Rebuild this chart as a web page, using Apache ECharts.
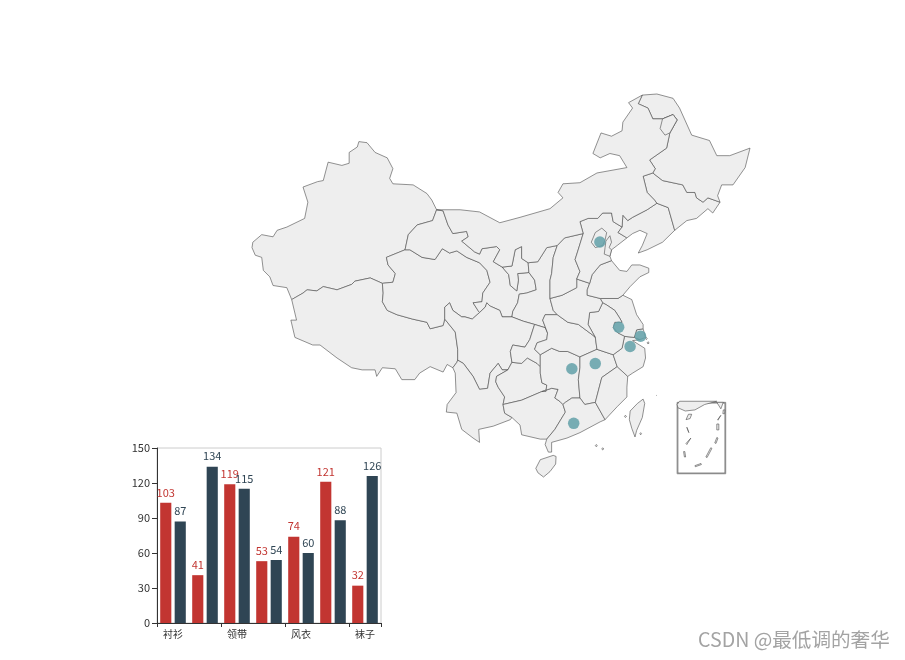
<!DOCTYPE html>
<html>
<head>
    <meta charset="utf-8">
    <title>Map and bars</title>
    <style>
        html, body { margin: 0; padding: 0; background: #fff; }
        #main { width: 905px; height: 660px; }
    </style>
</head>
<body>
    <div id="main"></div>
    <script src="https://cdn.jsdelivr.net/npm/echarts@6/dist/echarts.min.js"></script>
    <script>
        // bar data
        const categories = ['衬衫', '羊毛衫', '领带', '裤子', '风衣', '高跟鞋', '袜子'];
        const redValues = [103, 41, 119, 53, 74, 121, 32];
        const darkValues = [87, 134, 115, 54, 60, 88, 126];

        // cities on the map: lon, lat
        const cities = [
            [116.46, 39.92], [121.48, 31.22], [118.78, 32.04], [120.19, 30.26],
            [115.89, 28.68], [113.0, 28.21], [113.23, 23.16]
        ];

        // shared province borders, lon/lat
        const arcs = {
            xj_n: [[96.3,42.9],[95.7,43.8],[95.1,44.4],[93.4,45.2],[90.9,45.3],[90.5,45.8],[90.9,46.7],[90.2,47.7],[88.7,48.2],[87.7,49.1],[86.7,49.2],[86.5,48.7],[85.5,48.2],[85.5,47.2],[84.6,47],[82.9,47.3],[82.3,45.6],[81.6,45.5],[79.8,45],[80.4,43.6],[80,42.1],[77.8,41.3],[76.6,41],[76.1,40.4],[74.7,40.6],[73.6,39.9],[73.5,39.4],[73.9,38.7],[74.7,38.5],[74.9,37.3],[75.7,36.7],[76.1,35.9],[77.8,35.7],[78.4,34.6]],
            xj_xz: [[78.4,34.6],[79.8,35.2],[80.3,35.5],[81.5,35.4],[82.3,35.8],[84,35.5],[85.8,36],[86.2,36.3],[88.1,36.6],[89.6,36.1]],
            xj_qh: [[89.6,36.1],[90.9,36.2],[91.2,37],[90.3,37.8],[90.1,38.5],[92.4,39.2]],
            xj_gs: [[92.4,39.2],[92.8,40.6],[93.9,41.5],[95.8,41.9],[96.3,42.9]],
            xz_s: [[78.4,34.6],[79,32.7],[78.3,32.7],[78.8,31.1],[81,30.4],[81.9,30.4],[84,29.2],[85.8,28.3],[87.1,28.1],[88.7,28.1],[88.9,27.5],[89.6,28.3],[91.2,28.2],[92,27.2],[93.6,27.2],[94.2,27.8],[95.5,28.4],[97.1,27.9],[97.6,28.6],[98.3,28.3]],
            xz_yn: [[98.3,28.3],[98.8,28.8],[98.9,29]],
            sc_xz: [[97.3,32.8],[98.6,31.6],[98.9,30],[98.9,29]],
            qh_xz: [[97.3,32.8],[97.1,32.2],[95.5,31.9],[95.1,32.5],[93.3,32.8],[91.4,33.2],[90.2,33.6],[89.6,34.4],[89.7,35.2],[89.6,36.1]],
            qh_gs: [[92.4,39.2],[93,39.2],[94.5,38.5],[96.1,38.3],[97,39.3],[97.9,38.9],[98.8,39.1],[100,38.5],[101.6,38],[102.5,37.3],[102.9,36.2],[102,35.2],[101.9,34.4],[100.8,34.3],[101.4,33.6],[101.6,33.4]],
            qh_sc: [[101.6,33.4],[100.7,32.8],[99.8,33],[99.4,33],[98.3,33.6],[97.9,34.3],[97.3,33.9],[97.3,32.8]],
            gs_im: [[96.3,42.9],[97.1,42.8],[97.7,41.5],[98.3,40.7],[100,40.9],[100.2,40.4],[99.4,40],[101,39],[101.6,38.8],[101.9,39.3],[103.7,39.5],[104.1,39.2],[103.3,38.1],[104.4,37.6]],
            gs_nx: [[107.7,37.1],[106.3,37],[106.4,36.4],[106.2,35.4],[105.4,35.9],[105.2,36.9],[104.4,37.6]],
            gs_sa: [[105.6,33],[105.7,33.5],[106.3,34.3],[106.5,35.1],[107.4,35.2],[108.6,35.5],[108.4,36.4],[107.7,37.1]],
            gs_sc: [[101.6,33.4],[102.3,33.9],[102.5,34.3],[102.9,34],[104.1,33.6],[104.4,33],[105.6,33]],
            nx_im: [[104.4,37.6],[105.6,37.7],[106,39.2],[106.8,39.5],[106.8,38.4],[107.6,38]],
            nx_sa: [[107.6,38],[107.7,37.1]],
            sa_im: [[107.6,38],[108.8,38.1],[109.9,39.4],[111.2,39.6]],
            sa_sn: [[111.2,39.6],[110.7,38.5],[110.5,37],[110.3,36.4],[110.3,34.7]],
            sa_ha: [[110.3,34.7],[110.7,33.6],[111.2,33.2]],
            sa_hb: [[111.2,33.2],[109.7,33.2],[109.4,32.7],[110,31.5]],
            sa_cq: [[108.4,32.3],[109.7,32],[110,31.5]],
            sa_sc: [[105.6,33],[107,32.6],[108.4,32.3]],
            sc_cq: [[108.4,32.3],[107.8,30.9],[107.2,30.2],[105.7,30.4],[105.4,29.8],[105.6,28.8]],
            sc_gz: [[105.1,28.1],[105.6,28.8]],
            sc_yn: [[98.9,29],[99.6,28.7],[100.8,27.5],[101.6,26.3],[102.6,26.4],[102.9,27.8],[103.9,28.7],[104.4,28.1],[105.1,28.1]],
            yn_gz: [[105.1,28.1],[103.7,27.5],[103.6,27],[103.9,26.5],[104.7,25.6],[104.5,24.9]],
            yn_gx: [[104.5,24.9],[104.7,24.1],[105.6,23.7]],
            yn_s: [[98.3,28.3],[98.6,27.8],[98.7,26],[97.6,24.9],[97.5,24.2],[98.8,24.1],[99.4,22.6],[100.8,21.8],[101.6,21.4],[101.5,22.6],[103.3,22.9],[105.4,23.5],[105.6,23.7]],
            gz_cq: [[105.6,28.8],[106.8,28.7],[107.5,29.2],[108.7,28.7],[109.1,28.4]],
            gz_hn: [[109.1,28.4],[109.1,27.8],[109.3,26.9],[109.9,26.7],[109.8,26.1],[109.3,26.1]],
            gz_gx: [[104.5,24.9],[106.8,25.3],[109.3,26.1]],
            cq_hn: [[109.1,29.5],[109.1,28.4]],
            cq_hb: [[110,31.5],[109.9,30.9],[108.7,30.6],[108.4,30],[109.1,29.5]],
            gx_hn: [[109.3,26.1],[110.5,26.4],[111.3,26.3],[110.9,25.5],[111.5,25.2],[111.9,24.9]],
            gx_gd: [[111.9,24.9],[112.2,24.2],[110.9,22.6],[109.9,21.7]],
            gx_s: [[105.6,23.7],[106.6,23],[106.8,22.1],[109.1,21.7],[109.9,21.7]],
            hn_hb: [[109.1,29.5],[110.5,30.1],[111.5,29.8],[112.5,29.8],[114,29.3]],
            hn_jx: [[114,29.3],[114,28.3],[113.8,27.2],[114,25.5]],
            hn_gd: [[114,25.5],[113,25.5],[112.2,25.1],[111.9,24.9]],
            hb_ah: [[115.9,31.1],[116.1,30]],
            hb_jx: [[116.1,30],[114,29.3]],
            hb_ha: [[115.9,31.1],[115.6,31.3],[113.8,32.3],[112.5,32.5],[111.2,33.2]],
            jx_ah: [[116.1,30],[118.1,29.5]],
            jx_zj: [[118.1,29.5],[118.6,28.4]],
            jx_fj: [[118.6,28.4],[116.7,27.4],[115.9,25.1]],
            jx_gd: [[115.9,25.1],[114.6,24.9],[114,25.5]],
            gd_fj: [[117.1,23.5],[115.9,25.1]],
            gd_s: [[109.9,21.7],[109.7,21.2],[110.1,20.5],[110.5,20.5],[110.5,21.4],[112.4,21.8],[114,22.3],[116.5,23.3],[117.1,23.5]],
            fj_zj: [[119.9,27.5],[118.6,28.4]],
            fj_s: [[119.9,27.5],[119.8,26.5],[119.8,25.6],[118.6,24.7],[117.1,23.5]],
            zj_ah: [[118.1,29.5],[119.2,30.1],[119.5,31.2]],
            zj_js: [[119.5,31.2],[120.7,31.1]],
            zj_sh: [[121.4,30.9],[120.7,31.1]],
            zj_s: [[121.4,30.9],[120.5,30.8],[122,30.1],[122.1,29.2],[121.8,28.4],[120.5,27.8],[119.9,27.5]],
            sh_js: [[120.7,31.1],[121,31.8],[121.8,31.9]],
            sh_s: [[121.8,31.9],[122.1,31.1],[121.4,30.9]],
            js_s: [[119.3,35],[120.4,34.6],[121,33.2],[121.8,32.3],[121.8,31.9]],
            js_sd: [[119.3,35],[118.7,34.7],[116.5,34.7]],
            js_ah: [[116.8,34.3],[117.3,34.1],[118.3,33.6],[118.9,32.9],[119.2,32.5],[118.3,32.5],[118.1,32],[118.7,31.5],[119.5,31.2]],
            js_ha: [[116.5,34.7],[116.8,34.3]],
            ah_ha: [[116.8,34.3],[116.3,33.5],[115.2,33.4],[115,32.3],[115.9,31.1]],
            ha_sd: [[115.2,36.1],[114.9,35.5],[114.9,35],[116.5,34.7]],
            ha_he: [[113.6,36.5],[115.2,36.1]],
            ha_sn: [[113.6,36.5],[113.6,35.7],[111.8,35],[110.3,34.7]],
            sn_he: [[114.4,40.7],[113.7,39],[113.4,38.3],[114,37.2],[113.6,36.5]],
            sn_im: [[111.2,39.6],[112.1,40.3],[114.4,40.7]],
            he_im: [[114.4,40.7],[114,41.8],[115,42.1],[116.2,42.1],[116.8,42.6],[117.9,42.6],[118.1,41.8],[119.2,41.3]],
            he_ln: [[119.2,41.3],[118.7,40.8],[119.8,40.3]],
            he_s: [[119.8,40.3],[118.6,39.6],[117.9,39.2],[117.7,38.6],[117.9,38.2]],
            he_sd: [[115.2,36.1],[115.5,36.9],[116.5,37.8],[117.9,38.2]],
            sd_s: [[117.9,38.2],[118.9,37.3],[119.8,37.2],[120.4,37.8],[121.4,37.8],[122.5,37.5],[122.5,37.1],[121.4,36.7],[120.2,35.8],[119.3,35]],
            ln_im: [[119.2,41.3],[119.3,42.4],[119.9,41.9],[120.5,42.2],[122.3,42.9],[123.5,43.5]],
            ln_jl: [[123.5,43.5],[124.9,43.1],[125.7,41]],
            ln_s: [[125.7,41],[124.2,39.9],[122.3,39.2],[121.2,38.9],[121.7,39.6],[122.3,40.7],[121.4,41],[120.5,40.7],[119.8,40.3]],
            jl_im: [[123.5,43.5],[123.2,43.8],[122.3,44.5],[121.8,46],[123,46.3]],
            jl_hl: [[123,46.3],[124.2,45.6],[126.7,45.2],[127.2,44.5],[128.2,44.5],[128.4,44],[129.2,43.6],[129.8,44],[131.3,43.6]],
            jl_s: [[131.3,43.6],[130.4,42.6],[129.8,43],[128.4,42.1],[127.2,41.9],[125.7,41]],
            hl_im: [[123,46.3],[123.3,46.7],[122.6,47.5],[124.7,48.6],[125.1,50],[126,51.2],[125.5,51.7],[124.2,51.3],[123,51.3],[122.4,52.3],[121.2,52.7],[121.7,53.5]],
            hl_n: [[121.7,53.5],[123.5,53.6],[125.5,53.2],[126.3,52.3],[127.8,49.8],[130,49.3],[130.9,47.9],[132.5,47.9],[135,48.6],[134.4,46.8],[132.9,45.2],[131.5,45.2],[131,44.2],[131.3,43.6]],
            im_n: [[121.7,53.5],[120,52.8],[120.5,52.3],[119.3,51],[119.2,50.2],[117.9,49.7],[116.6,50],[115.6,48.1],[116.5,47.7],[117.7,48.1],[118.9,47.9],[119.8,46.8],[116.1,46.3],[114,45.4],[111.9,45.3],[111.3,44.5],[111.9,44],[110.3,43],[106.6,42.2],[104.1,41.7],[101.6,42.7],[99.2,42.9],[96.3,42.9]]
        };

        // provinces as chains of arcs, '-' runs an arc backwards
        const provinceArcs = {
            '新疆': ['xj_n', 'xj_xz', 'xj_qh', 'xj_gs'],
            '西藏': ['xz_s', 'xz_yn', '-sc_xz', 'qh_xz', '-xj_xz'],
            '青海': ['xj_qh', 'qh_gs', 'qh_sc', 'qh_xz'],
            '甘肃': ['xj_gs', 'gs_im', '-gs_nx', '-gs_sa', '-gs_sc', '-qh_gs'],
            '宁夏': ['nx_im', 'nx_sa', 'gs_nx'],
            '陕西': ['sa_im', 'sa_sn', 'sa_ha', 'sa_hb', '-sa_cq', '-sa_sc', 'gs_sa', '-nx_sa'],
            '四川': ['-qh_sc', 'gs_sc', 'sa_sc', 'sc_cq', '-sc_gz', '-sc_yn', '-sc_xz'],
            '云南': ['sc_yn', 'yn_gz', 'yn_gx', '-yn_s', 'xz_yn'],
            '贵州': ['sc_gz', 'gz_cq', 'gz_hn', '-gz_gx', '-yn_gz'],
            '重庆': ['sa_cq', 'cq_hb', 'cq_hn', '-gz_cq', '-sc_cq'],
            '广西': ['gz_gx', 'gx_hn', 'gx_gd', '-gx_s', '-yn_gx'],
            '湖南': ['hn_hb', 'hn_jx', 'hn_gd', '-gx_hn', '-gz_hn', '-cq_hn'],
            '湖北': ['-sa_hb', '-hb_ha', 'hb_ah', 'hb_jx', '-hn_hb', '-cq_hb'],
            '江西': ['-hb_jx', 'jx_ah', 'jx_zj', 'jx_fj', 'jx_gd', '-hn_jx'],
            '广东': ['jx_gd', 'hn_gd', 'gx_gd', 'gd_s', 'gd_fj'],
            '福建': ['jx_fj', '-gd_fj', '-fj_s', 'fj_zj'],
            '浙江': ['zj_ah', 'zj_js', '-zj_sh', 'zj_s', 'fj_zj', '-jx_zj'],
            '上海': ['sh_js', 'sh_s', 'zj_sh'],
            '江苏': ['js_s', '-sh_js', '-zj_js', '-js_ah', '-js_ha', '-js_sd'],
            '安徽': ['js_ah', '-zj_ah', '-jx_ah', '-hb_ah', '-ah_ha'],
            '河南': ['js_ha', 'ah_ha', 'hb_ha', '-sa_ha', '-ha_sn', 'ha_he', 'ha_sd'],
            '山东': ['he_sd', 'sd_s', 'js_sd', '-ha_sd'],
            '山西': ['-sa_sn', 'sn_im', 'sn_he', 'ha_sn'],
            '河北': ['he_im', 'he_ln', 'he_s', '-he_sd', '-ha_he', '-sn_he'],
            '辽宁': ['he_ln', '-ln_s', '-ln_jl', '-ln_im'],
            '吉林': ['ln_jl', '-jl_s', '-jl_hl', '-jl_im'],
            '黑龙江': ['jl_hl', '-hl_n', '-hl_im'],
            '内蒙古': ['gs_im', 'nx_im', 'sa_im', 'sn_im', 'he_im', 'ln_im', 'jl_im', 'hl_im', 'im_n']
        };

        // single closed shapes, drawn after the provinces
        const extraRings = {
            '北京': [[116.7,41.2],[117.3,40.8],[117.1,40.1],[116.8,39.6],[115.9,39.4],[115.4,39.9],[115.9,40.8]],
            '天津': [[117.9,39.2],[117.6,39.4],[117.9,39.9],[117.7,40.5],[117.2,40],[117.1,39.4],[117,38.8],[117.7,38.6]],
            '加格达奇': [[124.2,51.3],[123.9,50.4],[124.5,49.8],[125.1,50],[126,51.2],[125.5,51.7]],
            '台湾': [[121.8,25.4],[122,25],[121.7,23.7],[121,22.5],[120.8,21.9],[120.4,22.7],[120.1,23.5],[120.2,24.3],[121.1,25]],
            '海南': [[109.1,19.8],[110.7,20.2],[111.05,20.1],[111,19.4],[110.3,18.7],[109.5,18.2],[108.8,18.6],[108.55,19]]
        };

        // small islands and the south sea inset
        const islandRings = [
            [[116,21.2],[116.15,21.1],[116,21],[115.9,21.1]],
            [[116.8,20.9],[116.95,20.8],[116.8,20.7],[116.7,20.8]],
            [[119.6,23.9],[119.75,23.8],[119.6,23.7],[119.5,23.8]],
            [[121.5,22.3],[121.6,22.2],[121.5,22.1],[121.4,22.2]],
            [[122.4,30.7],[122.55,30.6],[122.4,30.5],[122.3,30.6]],
            [[122.2,31.1],[122.3,31],[122.2,30.9],[122.1,31]]
        ];
        const insetOuter = [[126,25.1],[132,25.1],[132,18.5],[126,18.5]];
        const insetInner = [[126.1,18.57],[131.9,18.57],[131.9,25.03],[126.1,25.03]];
        const insetRings = [
            [[126,24.9],[126.3,25.2],[130.9,25.2],[129.4,24.9],[128.2,24.4],[127,24.3],[126.1,24.6]],
            [[130.9,25.1],[131.7,25.1],[131.4,24.5]],
            [[131.7,24.4],[131.9,24.4],[131.85,24.05],[131.65,24.05]],
            [[127.1,23.5],[127.4,24],[127.8,24],[127.6,23.6]],
            [[127.2,22.8],[127.3,22.8],[127.45,22.3],[127.35,22.3]],
            [[127.1,21.3],[127.7,21.8],[127.75,21.75],[127.2,21.2]],
            [[126.8,20.55],[126.95,20.55],[127.05,20.05],[126.9,20.05]],
            [[128.2,19.25],[128.95,19.45],[129,19.35],[128.25,19.15]],
            [[129.55,20.05],[130.15,20.9],[130.3,20.85],[129.7,20]],
            [[130.65,21.35],[130.9,21.85],[131.05,21.8],[130.8,21.3]],
            [[130.9,23.1],[131.15,23.1],[131.15,22.55],[130.9,22.55]],
            [[131,23.5],[131.4,23.9],[131.45,23.85],[131.05,23.45]]
        ];

        function closeRing(ring) {
            return ring.concat([ring[0]]);
        }

        function chainArcs(list) {
            let ring = [];
            list.forEach(function (key) {
                const back = key.charAt(0) === '-';
                const line = arcs[back ? key.slice(1) : key];
                ring = ring.concat(back ? line.slice().reverse() : line);
            });
            return closeRing(ring);
        }

        function polygonFeature(name, rings) {
            return {
                type: 'Feature',
                properties: { name: name },
                geometry: { type: 'Polygon', coordinates: rings }
            };
        }

        const features = [];
        Object.keys(provinceArcs).forEach(function (name) {
            features.push(polygonFeature(name, [chainArcs(provinceArcs[name])]));
        });
        Object.keys(extraRings).forEach(function (name) {
            features.push(polygonFeature(name, [closeRing(extraRings[name])]));
        });
        features.push({
            type: 'Feature',
            properties: { name: '岛屿' },
            geometry: { type: 'MultiPolygon', coordinates: islandRings.map(function (r) { return [closeRing(r)]; }) }
        });
        features.push(polygonFeature('南海框', [closeRing(insetOuter), closeRing(insetInner)]));
        features.push({
            type: 'Feature',
            properties: { name: '南海诸岛' },
            geometry: { type: 'MultiPolygon', coordinates: insetRings.map(function (r) { return [closeRing(r)]; }) }
        });

        echarts.registerMap('china', { type: 'FeatureCollection', features: features });

        const labelFont = '"Noto Sans CJK SC", "Noto Sans", sans-serif';
        const chart = echarts.init(document.getElementById('main'), null, { renderer: 'canvas' });
        chart.setOption({
            animation: false,
            geo: {
                map: 'china',
                silent: true,
                aspectScale: 0.75,
                left: 252,
                top: 94,
                width: 498,
                height: 383,
                label: { show: false },
                itemStyle: { areaColor: '#eeeeee', borderColor: '#4a4a4a', borderWidth: 0.6 }
            },
            grid: {
                show: true,
                borderColor: '#cccccc',
                left: 157,
                top: 448,
                width: 224,
                height: 175,
                containLabel: false
            },
            xAxis: {
                type: 'category',
                data: categories,
                axisLine: { show: true, lineStyle: { color: '#333333' } },
                axisTick: { show: true, interval: 1, length: 4, lineStyle: { color: '#333333' } },
                axisLabel: { interval: 1, color: '#333333', fontSize: 10, margin: 6, fontFamily: labelFont }
            },
            yAxis: {
                type: 'value',
                min: 0,
                max: 150,
                interval: 30,
                axisLine: { show: true, lineStyle: { color: '#333333' } },
                axisTick: { show: true, length: 5, lineStyle: { color: '#333333' } },
                axisLabel: { color: '#333333', fontSize: 11, margin: 7, fontFamily: labelFont },
                splitLine: { show: false }
            },
            series: [
                {
                    type: 'bar',
                    data: redValues,
                    barGap: '30%',
                    barCategoryGap: '20%',
                    itemStyle: { color: '#c23531' },
                    label: { show: true, position: 'top', distance: 5, color: '#c23531', fontSize: 11, fontFamily: labelFont }
                },
                {
                    type: 'bar',
                    data: darkValues,
                    itemStyle: { color: '#2f4554' },
                    label: { show: true, position: 'top', distance: 5, color: '#2f4554', fontSize: 11, fontFamily: labelFont }
                },
                {
                    type: 'scatter',
                    coordinateSystem: 'geo',
                    data: cities,
                    symbolSize: 11.5,
                    itemStyle: { color: '#61a0a8', opacity: 0.85 }
                }
            ],
            graphic: [{
                type: 'text',
                left: 698,
                top: 630,
                silent: true,
                style: {
                    text: 'CSDN @最低调的奢华',
                    fill: '#a3a3a3',
                    font: '19.6px "Noto Sans CJK SC", sans-serif'
                }
            }]
        });
    </script>
</body>
</html>
